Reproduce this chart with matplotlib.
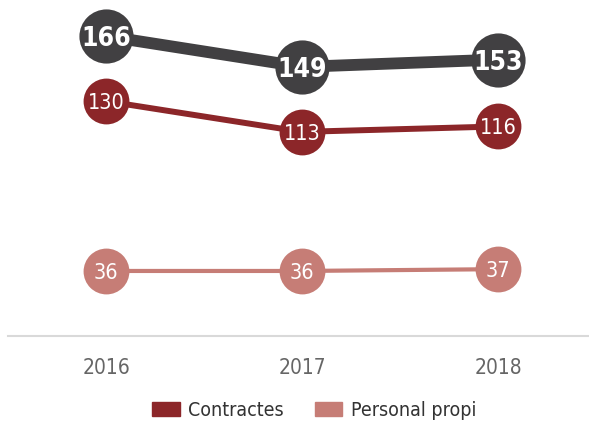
import matplotlib
matplotlib.use("Agg")
import matplotlib.pyplot as plt
from matplotlib.patches import Patch

plt.rcParams['font.family'] = ['DejaVu Sans']
plt.rcParams['font.stretch'] = 'condensed'

years = ['2016', '2017', '2018']
total = [166, 149, 153]
contractes = [130, 113, 116]
personal = [36, 36, 37]

c_total = '#414042'
c_contr = '#8c2629'
c_pers = '#c67d76'

fig = plt.figure(figsize=(5.89, 4.23), dpi=100)
ax = fig.add_axes([8 / 589, 1 - 336 / 423, 1 - 8 / 589, 336 / 423])
x = list(range(len(years)))

series = [
    (total, c_total, 8.5, 39, 19, 'bold'),
    (contractes, c_contr, 4.3, 33, 15.5, 'normal'),
    (personal, c_pers, 3.0, 33, 15.5, 'normal'),
]
for vals, col, lw, ms, fs, fw in series:
    ax.plot(x, vals, color=col, lw=lw, marker='o', ms=ms, mec=col, mew=0,
            clip_on=False, solid_capstyle='butt')
    for xi, v in zip(x, vals):
        ax.text(xi, v, str(v), color='white', fontsize=fs, fontweight=fw,
                fontstretch='condensed', ha='center', va='center_baseline')

ax.set_xlim(-0.5, 2.464)
ax.set_ylim(0, 186)
for s in ['top', 'right', 'left']:
    ax.spines[s].set_visible(False)
ax.spines['bottom'].set_color('#d9d9d9')
ax.spines['bottom'].set_linewidth(1.5)
ax.set_yticks([])
ax.set_xticks(x)
ax.set_xticklabels(years, fontsize=15, color='#666666', fontstretch='condensed')
ax.tick_params(axis='x', length=0, pad=16)

handles = [Patch(color=c_contr, label='Contractes'),
           Patch(color=c_pers, label='Personal propi')]
fig.legend(handles=handles, loc='center', bbox_to_anchor=(0.534, 0.03),
           ncol=2, frameon=False, handlelength=1.4,
           handleheight=0.72, columnspacing=1.6, handletextpad=0.46,
           labelcolor='#333333',
           prop={'size': 14, 'stretch': 'condensed'})

fig.savefig('out.png', dpi=100)
